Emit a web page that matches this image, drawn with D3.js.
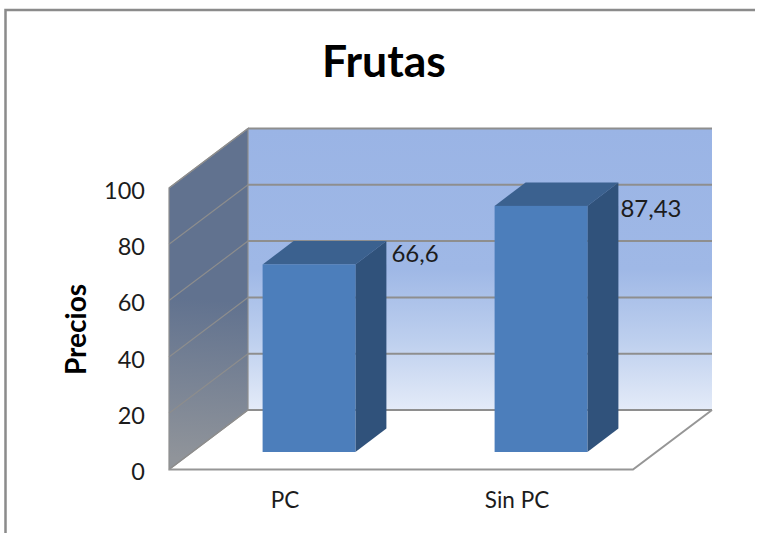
<!DOCTYPE html>
<html>
<head>
<meta charset="utf-8">
<script src="https://cdn.jsdelivr.net/npm/d3@7"></script>
<style>
  html, body { margin: 0; padding: 0; background: #fff; }
  svg { display: block; }
  text { font-family: Lato, "Open Sans", sans-serif; fill: #1c1c1c; }
</style>
</head>
<body>
<div id="chart"></div>
<script>
var categories = ["PC", "Sin PC"];
var values = [66.6, 87.43];
var yTicks = [0, 20, 40, 60, 80, 100];
var chartTitle = "Frutas";
var yTitle = "Precios";

var width = 757;
var height = 533;

// front plane of the 3d box + how far the back wall is pushed
var plot = { left: 169, right: 633, top: 188, bottom: 469.5 };
var depth = { dx: 79, dy: -59.5 };
// bars sit inside the depth of the box
var barOffset = { dx: 24, dy: -17.5 };
var barDepth = { dx: 31, dy: -23.5 };
// the value labels were dragged by hand in the original
var labelNudge = [{ dx: 5, dy: -3 }, { dx: 2, dy: 11.5 }];

var x = d3.scaleBand()
  .domain(categories)
  .range([plot.left, plot.right])
  .paddingInner(0.6)
  .paddingOuter(0.3);

var y = d3.scaleLinear()
  .domain([0, 100])
  .range([plot.bottom, plot.top]);

var line = d3.line();

var svg = d3.select("#chart").append("svg")
  .attr("width", width)
  .attr("height", height);

var defs = svg.append("defs");

var backGrad = defs.append("linearGradient")
  .attr("id", "backGrad")
  .attr("x1", 0).attr("y1", 0).attr("x2", 0).attr("y2", 1);
backGrad.append("stop").attr("offset", "0%").attr("stop-color", "#9ab4e5");
backGrad.append("stop").attr("offset", "50%").attr("stop-color", "#9fb8e6");
backGrad.append("stop").attr("offset", "75%").attr("stop-color", "#bdcfee");
backGrad.append("stop").attr("offset", "100%").attr("stop-color", "#e4ebf8");

var sideGrad = defs.append("linearGradient")
  .attr("id", "sideGrad")
  .attr("gradientUnits", "userSpaceOnUse")
  .attr("x1", 212).attr("y1", 300).attr("x2", 200).attr("y2", 460);
sideGrad.append("stop").attr("offset", "0%").attr("stop-color", "#61728f");
sideGrad.append("stop").attr("offset", "100%").attr("stop-color", "#90949a");

// outer frame, cropped on the right and the bottom
svg.append("path")
  .attr("d", line([[5.5, height], [5.5, 10], [755, 10]]))
  .attr("fill", "none")
  .attr("stroke", "#8b8b8b")
  .attr("stroke-width", 2.5);

// back wall
svg.append("rect")
  .attr("x", plot.left + depth.dx)
  .attr("y", y(100) + depth.dy)
  .attr("width", plot.right - plot.left)
  .attr("height", y(0) - y(100))
  .attr("fill", "url(#backGrad)");

// left wall
svg.append("path")
  .attr("d", line([
    [plot.left, y(0)],
    [plot.left, y(100)],
    [plot.left + depth.dx, y(100) + depth.dy],
    [plot.left + depth.dx, y(0) + depth.dy]
  ]) + "Z")
  .attr("fill", "url(#sideGrad)")
  .attr("stroke", "#8f8f8f")
  .attr("stroke-width", 1.2);

// gridlines, back wall then left wall
var grid = svg.append("g").attr("class", "grid");
grid.selectAll("line.back")
  .data(yTicks)
  .enter().append("line")
  .attr("class", "back")
  .attr("x1", plot.left + depth.dx)
  .attr("x2", plot.right + depth.dx)
  .attr("y1", function (d) { return y(d) + depth.dy; })
  .attr("y2", function (d) { return y(d) + depth.dy; })
  .attr("stroke", "#8e8e8e")
  .attr("stroke-width", 2);
grid.selectAll("line.side")
  .data(yTicks)
  .enter().append("line")
  .attr("class", "side")
  .attr("x1", plot.left)
  .attr("x2", plot.left + depth.dx)
  .attr("y1", function (d) { return y(d); })
  .attr("y2", function (d) { return y(d) + depth.dy; })
  .attr("stroke", "#8d8d8d")
  .attr("stroke-width", 1.2);

// floor outline
svg.append("path")
  .attr("d", line([
    [plot.left, y(0)],
    [plot.right, y(0)],
    [plot.right + depth.dx, y(0) + depth.dy]
  ]))
  .attr("fill", "none")
  .attr("stroke", "#969696")
  .attr("stroke-width", 2);

// bars
var bars = svg.append("g").attr("class", "bars")
  .selectAll("g")
  .data(categories.map(function (c, i) { return { name: c, value: values[i], i: i }; }))
  .enter().append("g");

function barX(d) { return x(d.name) + barOffset.dx; }
function barTop(d) { return y(d.value) + barOffset.dy; }
function barBottom() { return y(0) + barOffset.dy; }

bars.append("path") // top face
  .attr("d", function (d) {
    return line([
      [barX(d), barTop(d)],
      [barX(d) + x.bandwidth(), barTop(d)],
      [barX(d) + x.bandwidth() + barDepth.dx, barTop(d) + barDepth.dy],
      [barX(d) + barDepth.dx, barTop(d) + barDepth.dy]
    ]) + "Z";
  })
  .attr("fill", "#3b618f");

bars.append("path") // right face
  .attr("d", function (d) {
    return line([
      [barX(d) + x.bandwidth(), barTop(d)],
      [barX(d) + x.bandwidth() + barDepth.dx, barTop(d) + barDepth.dy],
      [barX(d) + x.bandwidth() + barDepth.dx, barBottom() + barDepth.dy],
      [barX(d) + x.bandwidth(), barBottom()]
    ]) + "Z";
  })
  .attr("fill", "#30527b");

bars.append("rect") // front face
  .attr("x", barX)
  .attr("y", barTop)
  .attr("width", x.bandwidth())
  .attr("height", function (d) { return barBottom() - barTop(d); })
  .attr("fill", "#4c7ebb");

// value labels, comma decimals like the original
bars.append("text")
  .attr("x", function (d) { return barX(d) + x.bandwidth() + barDepth.dx + labelNudge[d.i].dx; })
  .attr("y", function (d) { return barTop(d) + labelNudge[d.i].dy; })
  .attr("font-size", 24)
  .text(function (d) { return String(d.value).replace(".", ","); });

// axes, only the labels are kept
var yAxis = svg.append("g")
  .attr("transform", "translate(" + plot.left + ",0)")
  .call(d3.axisLeft(y).tickValues(yTicks).tickSize(0).tickPadding(24));
yAxis.select(".domain").remove();
yAxis.selectAll("text").attr("font-size", 23.5).attr("dy", "0.44em");
yAxis.attr("font-family", null);

var xAxis = svg.append("g")
  .attr("transform", "translate(0," + plot.bottom + ")")
  .call(d3.axisBottom(x).tickSize(0).tickPadding(23));
xAxis.select(".domain").remove();
xAxis.selectAll("text").attr("font-size", 22.5);
xAxis.attr("font-family", null);

svg.append("text")
  .attr("x", 384)
  .attr("y", 77)
  .attr("text-anchor", "middle")
  .attr("font-size", 44.5)
  .attr("font-weight", "bold")
  .style("fill", "#000")
  .text(chartTitle);

svg.append("text")
  .attr("transform", "translate(86,329.5) rotate(-90)")
  .attr("text-anchor", "middle")
  .attr("font-size", 28)
  .attr("font-weight", "bold")
  .style("fill", "#000")
  .text(yTitle);
</script>
</body>
</html>
